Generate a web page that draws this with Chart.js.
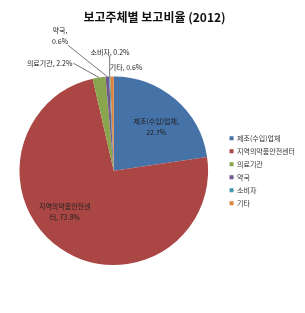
<!DOCTYPE html>
<html>
<head>
<meta charset="utf-8">
<script src="https://cdn.jsdelivr.net/npm/chart.js@4"></script>
<style>
  body { margin: 0; background: #fff; }
  #wrap { width: 305px; height: 313px; }
</style>
</head>
<body>
<div id="wrap"><canvas id="pieChart" width="305" height="313"></canvas></div>
<script>
// Data
const categories = ["제조(수입)업체", "지역의약품안전센터", "의료기관", "약국", "소비자", "기타"];
const shares = [22.7, 73.8, 2.2, 0.6, 0.2, 0.6];
const labelLines = [
    ["제조(수입)업체,", "22.7%"],
    ["지역의약품안전센", "터, 73.8%"],
    ["의료기관, 2.2%"],
    ["약국,", "0.6%"],
    ["소비자, 0.2%"],
    ["기타, 0.6%"]
];
const colors = ["#4572A7", "#AA4643", "#89A54E", "#71588F", "#4198AF", "#DB843D"];

// label placement, in radius units from the pie centre
const labelPos = [
    { dx: 0.45, dy: -0.47, leader: false },
    { dx: -0.52, dy: 0.44, leader: false },
    { dx: -0.68, dy: -1.14, leader: true, from: "right" },
    { dx: -0.57, dy: -1.43, leader: true, from: "bottomRight" },
    { dx: -0.04, dy: -1.26, leader: true, from: "bottom" },
    { dx: 0.13, dy: -1.10, leader: false }
];

const FONT = "'Noto Sans CJK KR', 'Noto Sans', sans-serif";

// Draw the data labels and leader lines
const pieLabels = {
    id: "pieLabels",
    afterDatasetsDraw(chart) {
        const ctx = chart.ctx;
        const arcs = chart.getDatasetMeta(0).data;
        ctx.save();
        ctx.font = "7px " + FONT;
        ctx.fillStyle = "#222";
        ctx.strokeStyle = "#555";
        ctx.lineWidth = 0.8;
        ctx.textAlign = "center";
        ctx.textBaseline = "middle";
        const lh = 11;
        arcs.forEach((arc, i) => {
            const r = arc.outerRadius;
            const cx = arc.x + labelPos[i].dx * r;
            const cy = arc.y + labelPos[i].dy * r;
            const lines = labelLines[i];
            const top = cy - (lines.length - 1) * lh / 2;
            let maxW = 0;
            lines.forEach((t, k) => {
                ctx.fillText(t, cx, top + k * lh);
                maxW = Math.max(maxW, ctx.measureText(t).width);
            });
            if (labelPos[i].leader) {
                const mid = (arc.startAngle + arc.endAngle) / 2;
                const ex = arc.x + Math.cos(mid) * r;
                const ey = arc.y + Math.sin(mid) * r;
                let sx = cx, sy = cy;
                const bottom = top + (lines.length - 1) * lh + 4;
                if (labelPos[i].from === "right") { sx = cx + maxW / 2 + 1; sy = cy; }
                if (labelPos[i].from === "bottomRight") { sx = cx + maxW / 2; sy = bottom; }
                if (labelPos[i].from === "bottom") { sx = ex; sy = bottom; }
                ctx.beginPath();
                ctx.moveTo(sx, sy);
                ctx.lineTo(ex, ey);
                ctx.stroke();
            }
        });
        ctx.restore();
    }
};

const chart = new Chart(document.getElementById("pieChart"), {
    type: "pie",
    data: {
        labels: categories,
        datasets: [{
            data: shares,
            backgroundColor: colors,
            borderWidth: 0
        }]
    },
    options: {
        responsive: false,
        animation: false,
        layout: { padding: { left: 4, right: 0, bottom: 48 } },
        plugins: {
            title: {
                display: true,
                text: "보고주체별 보고비율 (2012)",
                color: "#111",
                font: { family: FONT, size: 12, weight: "bold", lineHeight: 1.2 },
                padding: { top: 10, bottom: 52 }
            },
            legend: {
                position: "right",
                fullSize: false,
                labels: {
                    boxWidth: 4,
                    boxHeight: 4,
                    padding: 6,
                    color: "#333",
                    font: { family: FONT, size: 7 }
                }
            },
            tooltip: { enabled: false }
        }
    },
    plugins: [pieLabels]
});
</script>
</body>
</html>
